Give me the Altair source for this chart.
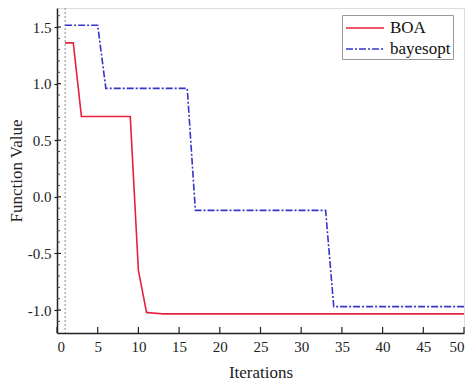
import altair as alt
import pandas as pd

boa_iter = [1, 2, 3, 9, 10, 11, 13, 50]
boa_val = [1.36, 1.36, 0.71, 0.71, -0.65, -1.022, -1.034, -1.034]
bay_iter = [1, 5, 6, 16, 17, 33, 34, 50]
bay_val = [1.515, 1.515, 0.958, 0.958, -0.12, -0.12, -0.97, -0.97]

x_ticks = [0, 5, 10, 15, 20, 25, 30, 35, 40, 45, 50]
y_major = [-1.0, -0.5, 0.0, 0.5, 1.0, 1.5]
y_minor = [-1.1, -0.9, -0.8, -0.7, -0.6, -0.4, -0.3, -0.2, -0.1, 0.1, 0.2, 0.3,
           0.4, 0.6, 0.7, 0.8, 0.9, 1.1, 1.2, 1.3, 1.4, 1.6]
marker_x = [1]

W, H = 407, 325
FONT = "Liberation Serif"

df = pd.concat([
    pd.DataFrame({"Iterations": boa_iter, "value": boa_val, "series": "BOA"}),
    pd.DataFrame({"Iterations": bay_iter, "value": bay_val, "series": "bayesopt"}),
])

xs = alt.Scale(domain=[0, 50], nice=False, zero=False)
ys = alt.Scale(domain=[-1.203, 1.668], nice=False, zero=False)

lines = alt.Chart(df).mark_line(strokeWidth=1.6, clip=True).encode(
    x=alt.X("Iterations:Q", scale=xs,
            axis=alt.Axis(values=x_ticks, ticks=False, grid=False, labelFontSize=15,
                          labelFont=FONT, labelColor="#222", labelPadding=6,
                          title="Iterations", titleFont=FONT, titleFontSize=17,
                          titleFontWeight="normal", titleColor="#222", titlePadding=10,
                          domainColor="#222", domainWidth=1.5, format="d")),
    y=alt.Y("value:Q", scale=ys,
            axis=alt.Axis(values=y_major, tickSize=3, tickColor="#222", tickWidth=1.2,
                          grid=False, labelFontSize=15, labelFont=FONT, labelColor="#222",
                          labelPadding=3,
                          labelExpr="datum.value < 0 ? '-' + format(-datum.value, '.1f') : format(datum.value, '.1f')",
                          title="Function Value", titleFont=FONT,
                          titleFontSize=17, titleFontWeight="normal", titleColor="#222",
                          titlePadding=2, domainColor="#222", domainWidth=1.5)),
    color=alt.Color("series:N",
                    scale=alt.Scale(domain=["BOA", "bayesopt"], range=["#e6213c", "#3535c8"]),
                    legend=alt.Legend(title=None, orient="none", legendX=285, legendY=7,
                                      labelFont=FONT, labelFontSize=17, labelColor="#111",
                                      symbolType="M-1.9,0H1.9", symbolSize=400,
                                      symbolOffset=10,
                                      symbolStrokeWidth=1.6, strokeColor="#999",
                                      fillColor="white", padding=2, rowPadding=2,
                                      labelOffset=14, cornerRadius=0)),
    strokeDash=alt.StrokeDash("series:N",
                              scale=alt.Scale(domain=["BOA", "bayesopt"],
                                              range=[[1, 0], [7, 2, 2, 2]]),
                              legend=None),
)

vline = alt.Chart(pd.DataFrame({"x": marker_x})).mark_rule(
    color="#888", strokeDash=[2, 2], strokeWidth=1).encode(x=alt.X("x:Q", scale=xs))

xt = alt.Chart(pd.DataFrame({"x": x_ticks})).mark_rule(color="#222", strokeWidth=1.2).encode(
    x=alt.X("x:Q", scale=xs), y=alt.value(H), y2=alt.value(H - 6))

ytM = alt.Chart(pd.DataFrame({"y": y_major})).mark_rule(color="#222", strokeWidth=1.2).encode(
    y=alt.Y("y:Q", scale=ys), x=alt.value(0), x2=alt.value(4))

ytm = alt.Chart(pd.DataFrame({"y": y_minor})).mark_rule(color="#444", strokeWidth=1).encode(
    y=alt.Y("y:Q", scale=ys), x=alt.value(0), x2=alt.value(3))

chart = alt.layer(vline, xt, ytM, ytm, lines).properties(
    width=W, height=H,
    autosize=alt.AutoSizeParams(type="none"),
    padding={"left": 49, "top": 0, "right": 2, "bottom": 48},
).configure_view(stroke="#222", strokeWidth=1.5).configure(
    background="white", font=FONT
).configure_axis(labelFont=FONT, titleFont=FONT).configure_legend(labelFont=FONT)

chart.save("out.html", embed_options={"renderer": "svg", "actions": False})
